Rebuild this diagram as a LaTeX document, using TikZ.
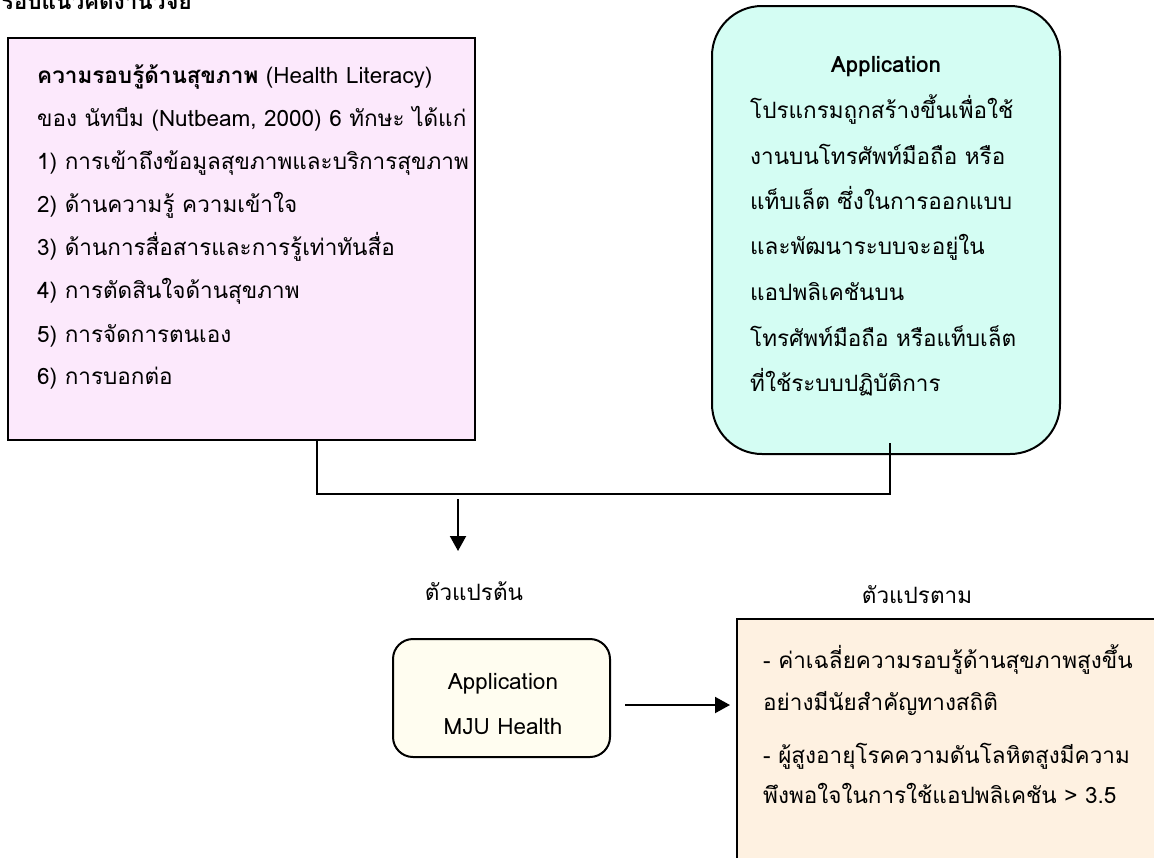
\documentclass[tikz,border=0pt]{standalone}
\usepackage{fontspec}
\setmainfont[Script=Thai]{Loma}
\usetikzlibrary{arrows.meta}
\definecolor{pinkfill}{RGB}{252,233,252}
\definecolor{cyanfill}{RGB}{212,253,243}
\definecolor{creamfill}{RGB}{255,253,240}
\definecolor{peachfill}{RGB}{254,241,225}
\begin{document}
\begin{tikzpicture}[x=1pt,y=-1pt,
  box/.style={draw=black,line width=2pt},
  txt/.style={anchor=base west,inner sep=0pt,font=\fontsize{22.5}{27}\selectfont},
  ctxt/.style={anchor=base,inner sep=0pt,font=\fontsize{22.5}{27}\selectfont},
  conn/.style={draw=black,line width=2pt},
  arr/.style={conn,-{Triangle[length=15pt,width=16pt]}}]
\clip (0,0) rectangle (1154,857);
\fill[white] (0,0) rectangle (1154,857);
\node[ctxt,anchor=base east,font=\fontsize{22.5}{27}\selectfont\bfseries] (title) at (192,9) {กรอบแนวคิดงานวิจัย};
% pink box
\draw[box,fill=pinkfill] (8,38) rectangle (475,440);
\coordinate (hlbot) at (317,440);
\node[txt] (p1) at (37,83) {\textbf{ความรอบรู้ด้านสุขภาพ} (Health Literacy)};
\node[txt] (p2) at (37,126) {ของ นัทบีม (Nutbeam, 2000) 6 ทักษะ ได้แก่};
\node[txt] (p3) at (37,169) {1) การเข้าถึงข้อมูลสุขภาพและบริการสุขภาพ};
\node[txt] (p4) at (37,212) {2) ด้านความรู้ ความเข้าใจ};
\node[txt] (p5) at (37,255) {3) ด้านการสื่อสารและการรู้เท่าทันสื่อ};
\node[txt] (p6) at (37,298) {4) การตัดสินใจด้านสุขภาพ};
\node[txt] (p7) at (37,342) {5) การจัดการตนเอง};
\node[txt] (p8) at (37,384) {6) การบอกต่อ};
% cyan box
\draw[box,fill=cyanfill,rounded corners=50pt] (712,6) rectangle (1060,454);
\node[ctxt,font=\fontsize{22.5}{27}\selectfont\bfseries] (c0) at (886,72) {Application};
\node[txt] (c1) at (750,118) {โปรแกรมถูกสร้างขึ้นเพื่อใช้};
\node[txt] (c2) at (750,164) {งานบนโทรศัพท์มือถือ หรือ};
\node[txt] (c3) at (750,209) {แท็บเล็ต ซึ่งในการออกแบบ};
\node[txt] (c4) at (750,254) {และพัฒนาระบบจะอยู่ใน};
\node[txt] (c5) at (750,300) {แอปพลิเคชันบน};
\node[txt] (c6) at (750,346) {โทรศัพท์มือถือ หรือแท็บเล็ต};
\node[txt] (c7) at (750,391) {ที่ใช้ระบบปฏิบัติการ};
\coordinate (cyin) at (890,443);
% connectors
\coordinate (j1) at (317,494);
\coordinate (j2) at (890,494);
\draw[conn] (hlbot) -- (j1) -- (j2) -- (cyin);
\coordinate (dstart) at (458,499);
\coordinate (dend) at (458,551);
\draw[arr] (dstart) -- (dend);
% labels
\node[ctxt] (iv) at (474,600) {ตัวแปรต้น};
\node[ctxt] (dv) at (917,603) {ตัวแปรตาม};
% yellow box
\draw[box,fill=creamfill,rounded corners=20pt] (393,639) rectangle (610,757);
\node[ctxt] (y1) at (503,689) {Application};
\node[ctxt] (y2) at (503,734) {MJU Health};
% right box
\draw[box,fill=peachfill] (737,619) rectangle (1175,880);
\node[txt] (r1) at (763,668) {- ค่าเฉลี่ยความรอบรู้ด้านสุขภาพสูงขึ้น};
\node[txt] (r2) at (763,710) {อย่างมีนัยสำคัญทางสถิติ};
\node[txt] (r3) at (763,763) {- ผู้สูงอายุโรคความดันโลหิตสูงมีความ};
\node[txt] (r4) at (763,803) {พึงพอใจในการใช้แอปพลิเคชัน > 3.5};
\coordinate (hstart) at (625,705);
\coordinate (hend) at (730,705);
\draw[arr] (hstart) -- (hend);
\end{tikzpicture}
\end{document}
